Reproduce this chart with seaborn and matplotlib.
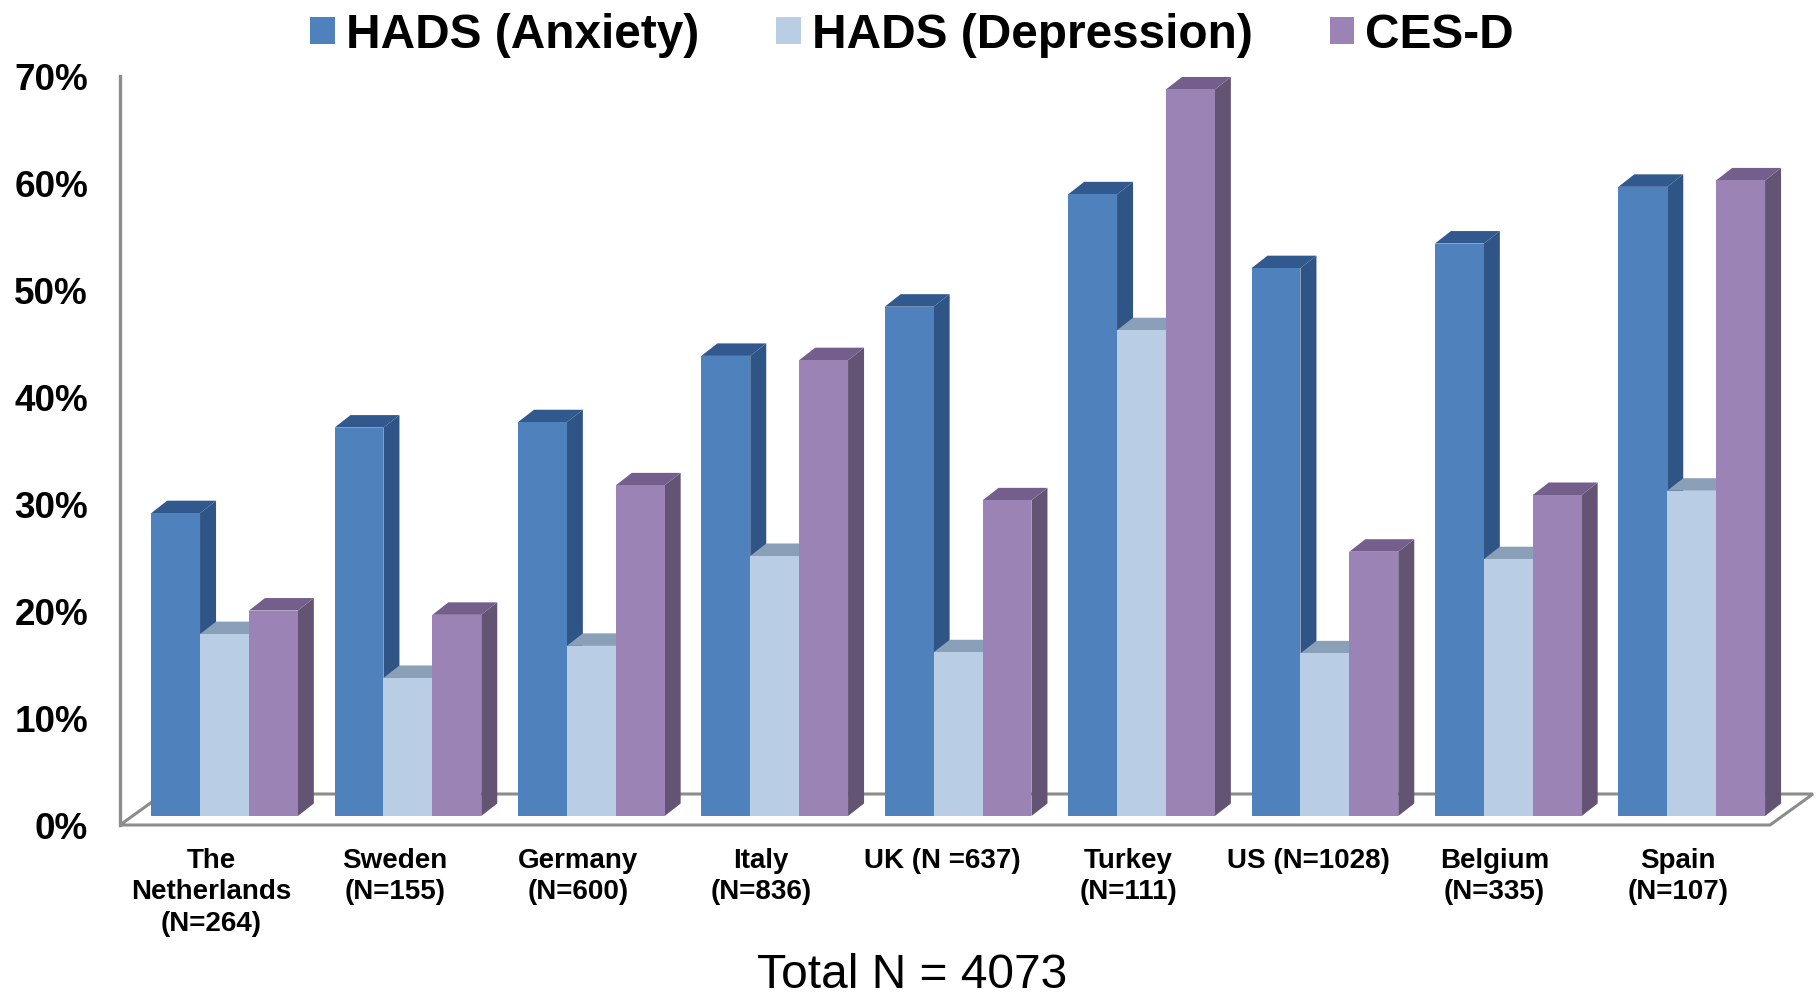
import matplotlib
matplotlib.use("Agg")
import matplotlib.pyplot as plt
from matplotlib.patches import Patch, Polygon
import pandas as pd
import seaborn as sns

countries = ["The\nNetherlands\n(N=264)", "Sweden\n(N=155)", "Germany\n(N=600)", "Italy\n(N=836)",
             "UK (N =637)", "Turkey\n(N=111)", "US (N=1028)", "Belgium\n(N=335)", "Spain\n(N=107)"]
series_names = ["HADS (Anxiety)", "HADS (Depression)", "CES-D"]
anxiety = [28.3, 36.3, 36.8, 43.0, 47.6, 58.1, 51.2, 53.5, 58.8]
depression = [17.0, 12.9, 15.9, 24.3, 15.3, 45.4, 15.2, 24.0, 30.4]
cesd = [19.2, 18.8, 30.9, 42.6, 29.5, 67.9, 24.7, 30.0, 59.4]
yticks = [0, 10, 20, 30, 40, 50, 60, 70]
total_label = "Total N = 4073"

front = ["#4F81BD", "#B9CDE5", "#9C83B5"]
side = ["#2F5486", "#8A9BB2", "#635473"]
top = ["#32598D", "#8A9FB8", "#745F8C"]
GREY = "#8C8C8C"

W, H = 1820, 995
sns.set_theme(style="white")
plt.rcParams["font.family"] = ["Liberation Sans", "DejaVu Sans"]
fig = plt.figure(figsize=(W / 100, H / 100), dpi=100, facecolor="white")

# axes frame in pixels
L, R, T, B = 120, 1813, 77, 826
ax = fig.add_axes([L / W, 1 - B / H, (R - L) / W, (B - T) / H])

df = pd.concat([
    pd.DataFrame({"country": countries, "series": name, "value": vals})
    for name, vals in zip(series_names, [anxiety, depression, cesd])
])
sns.barplot(data=df, x="country", y="value", hue="series", order=countries, hue_order=series_names,
            palette=front, width=0.8, gap=0, saturation=1, errorbar=None, legend=False, ax=ax,
            linewidth=0)

step = 183.4
ax.set_xlim((L - 224.5) / step, (R - 224.5) / step)
ax.set_ylim(0, 70)

px_y = (B - T) / 70
base = 9 / px_y
dx, dy = 16 / step, 12.5 / px_y

n = len(countries)
for idx, p in enumerate(list(ax.patches)):
    s = idx // n
    x0, w, h = p.get_x(), p.get_width(), p.get_height()
    z = 10 + x0 * 10
    p.set_y(base)
    p.set_zorder(z + 0.2)
    p.set_clip_on(False)
    x1 = x0 + w
    yt = base + h
    ax.add_patch(Polygon([(x1, base), (x1 + dx, base + dy), (x1 + dx, yt + dy), (x1, yt)],
                         closed=True, fc=side[s], ec="none", zorder=z, clip_on=False))
    ax.add_patch(Polygon([(x0, yt), (x0 + dx, yt + dy), (x1 + dx, yt + dy), (x1, yt)],
                         closed=True, fc=top[s], ec="none", zorder=z + 0.1, clip_on=False))

# floor of the 3D box
fx = lambda px: (px - L) / (R - L)
fy = lambda py: (B - py) / (B - T)
floor = Polygon([(fx(120), fy(826)), (fx(1770), fy(826)), (fx(1813), fy(795)), (fx(163), fy(795))],
                closed=True, fc="none", ec=GREY, lw=2.2, transform=ax.transAxes, clip_on=False, zorder=1)
ax.add_patch(floor)

sns.despine(ax=ax, top=True, right=True, bottom=True)
ax.spines["left"].set_color(GREY)
ax.spines["left"].set_linewidth(2.4)

ax.set_yticks(yticks)
ax.set_yticklabels([f"{v}%" for v in yticks], fontsize=26.6, fontweight="bold", color="black")
ax.tick_params(axis="y", length=0, pad=23)

label_shift = [-13, -13, -13, -14, -16, -13, -16, -14, -14]
ax.set_xticks([i + d / step for i, d in enumerate(label_shift)])
ax.set_xticklabels(countries, fontsize=20, fontweight="bold", color="black", va="top", ha="center",
                   linespacing=1.29)
ax.tick_params(axis="x", length=0, pad=15.5)
ax.set_xlabel(total_label, fontsize=34.5, color="black", va="center", ha="center")
ax.xaxis.set_label_coords(fx(912), fy(975.5))
ax.set_ylabel("")
ax.patch.set_alpha(0)

handles = [Patch(fc=c, ec="none") for c in front]
fig.legend(handles, series_names, loc="center left", bbox_to_anchor=(310 / W, 1 - 36 / H),
           ncol=3, frameon=False, prop={"size": 34.4, "weight": "bold"}, labelcolor="black",
           handlelength=0.52, handleheight=0.52, handletextpad=0.23, columnspacing=1.61,
           borderpad=0, borderaxespad=0)

fig.savefig("out.png", dpi=100, facecolor="white")
